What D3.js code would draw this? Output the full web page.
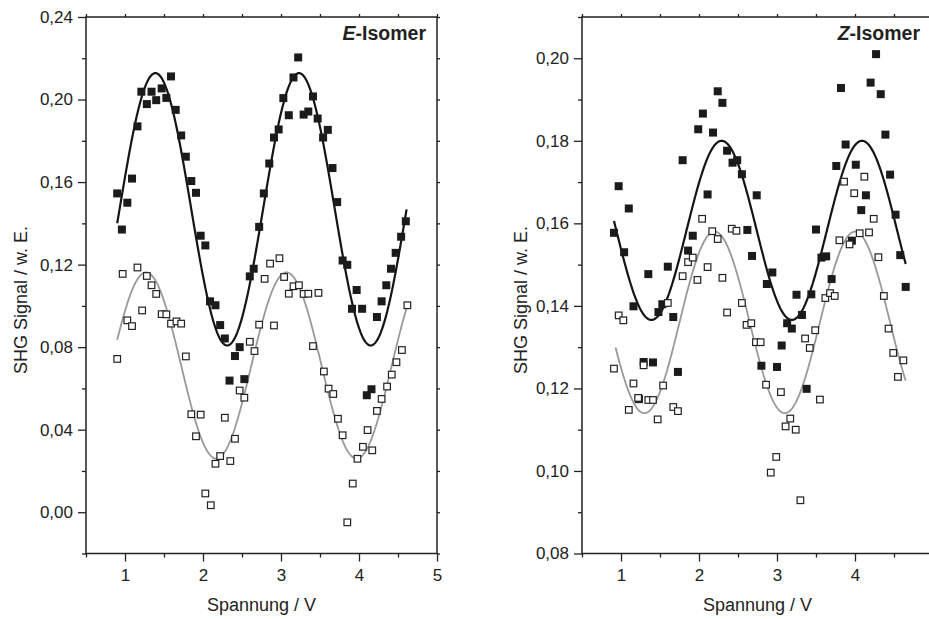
<!DOCTYPE html>
<html>
<head>
<meta charset="utf-8">
<script src="https://cdn.jsdelivr.net/npm/d3@7"></script>
<style>
  body { margin: 0; background: #fff; }
  svg { display: block; font-family: "Liberation Sans", Arial, sans-serif; }
</style>
</head>
<body>
<svg id="chart" width="929" height="619"></svg>
<script>
// ---- data ----
const xMajor = [1, 2, 3, 4, 5];
const xMinor = [0.5, 1.5, 2.5, 3.5, 4.5];

const eMajorY = [0, 0.04, 0.08, 0.12, 0.16, 0.2, 0.24];
const eMinorY = [-0.02, 0.02, 0.06, 0.1, 0.14, 0.18, 0.22];
const zMajorY = [0.08, 0.1, 0.12, 0.14, 0.16, 0.18, 0.2];
const zMinorY = [0.09, 0.11, 0.13, 0.15, 0.17, 0.19, 0.21];

// E-isomer, filled squares
const eFilledX = [0.90,0.96,1.03,1.09,1.16,1.21,1.28,1.34,1.40,1.47,1.53,1.59,1.65,1.72,1.78,1.85,1.91,1.97,2.03,2.09,2.16,2.22,2.28,2.34,2.41,2.47,2.53,2.60,2.65,2.72,2.78,2.85,2.91,2.97,3.03,3.10,3.16,3.22,3.29,3.35,3.41,3.47,3.54,3.60,3.66,3.72,3.79,3.85,3.91,3.97,4.04,4.10,4.16,4.23,4.29,4.35,4.41,4.47,4.54,4.60];
const eFilledY = [0.1545,0.137,0.150,0.1617,0.187,0.2038,0.1978,0.2038,0.1997,0.2054,0.2008,0.2112,0.195,0.1826,0.1723,0.1605,0.1548,0.134,0.1293,0.1022,0.1003,0.0907,0.0842,0.0638,0.0757,0.080,0.0645,0.1143,0.118,0.1383,0.1545,0.169,0.1816,0.1855,0.2007,0.1924,0.2107,0.2204,0.1927,0.1942,0.2015,0.1908,0.1816,0.1853,0.1668,0.1503,0.122,0.1199,0.0986,0.1077,0.0986,0.0567,0.0596,0.0946,0.1022,0.110,0.118,0.1257,0.1335,0.141];
// E-isomer, open squares
const eOpenX = [0.90,0.97,1.03,1.09,1.16,1.22,1.28,1.34,1.40,1.47,1.53,1.59,1.66,1.72,1.78,1.85,1.91,1.97,2.03,2.10,2.16,2.22,2.28,2.35,2.41,2.47,2.53,2.60,2.66,2.72,2.79,2.86,2.91,2.98,3.04,3.10,3.16,3.23,3.29,3.35,3.41,3.48,3.55,3.61,3.67,3.73,3.79,3.85,3.92,3.98,4.05,4.11,4.17,4.23,4.29,4.36,4.42,4.48,4.55,4.62];
const eOpenY = [0.0743,0.1155,0.093,0.0902,0.1186,0.0978,0.1145,0.110,0.1058,0.096,0.0959,0.0914,0.0925,0.0914,0.0755,0.0475,0.0368,0.0473,0.0091,0.0034,0.0235,0.0272,0.0458,0.0248,0.0356,0.0590,0.0555,0.0826,0.0781,0.0909,0.1131,0.1205,0.0905,0.1231,0.114,0.1059,0.1095,0.110,0.1058,0.1059,0.0805,0.1063,0.0682,0.0599,0.0573,0.0453,0.0373,-0.0049,0.0139,0.0259,0.0317,0.0398,0.030,0.0491,0.0549,0.0609,0.0667,0.0727,0.0786,0.1003];

// Z-isomer, filled squares
const zFilledX = [0.91,0.97,1.04,1.10,1.16,1.23,1.29,1.35,1.41,1.48,1.53,1.60,1.67,1.73,1.79,1.86,1.92,1.99,2.05,2.11,2.18,2.24,2.30,2.36,2.43,2.49,2.55,2.62,2.68,2.74,2.80,2.87,2.94,3.00,3.06,3.13,3.19,3.25,3.32,3.38,3.44,3.50,3.57,3.63,3.70,3.76,3.82,3.88,3.96,4.01,4.08,4.14,4.20,4.27,4.33,4.39,4.45,4.52,4.58,4.65];
const zFilledY = [0.1577,0.169,0.153,0.1636,0.1399,0.1174,0.1264,0.1477,0.1263,0.1385,0.1404,0.1495,0.1373,0.124,0.1753,0.1534,0.157,0.1828,0.1866,0.167,0.182,0.192,0.1892,0.1776,0.1747,0.1753,0.1719,0.1584,0.1521,0.1668,0.1255,0.1453,0.1481,0.1252,0.1304,0.1358,0.1345,0.1427,0.1378,0.1199,0.1428,0.1585,0.1517,0.152,0.1465,0.1739,0.1928,0.1791,0.1558,0.1742,0.1632,0.1668,0.1941,0.201,0.1913,0.1815,0.1718,0.1621,0.1523,0.1446];
// Z-isomer, open squares
const zOpenX = [0.91,0.97,1.03,1.10,1.16,1.22,1.29,1.35,1.41,1.47,1.54,1.60,1.67,1.73,1.79,1.86,1.92,1.98,2.04,2.11,2.17,2.24,2.30,2.36,2.42,2.48,2.55,2.61,2.67,2.73,2.79,2.86,2.92,2.99,3.05,3.11,3.17,3.24,3.30,3.36,3.42,3.49,3.55,3.62,3.68,3.74,3.80,3.86,3.93,3.99,4.06,4.12,4.18,4.24,4.30,4.37,4.43,4.49,4.55,4.62];
const zOpenY = [0.1248,0.1377,0.1365,0.1148,0.1212,0.1177,0.1256,0.1172,0.1172,0.1125,0.1207,0.1407,0.1155,0.1145,0.1472,0.1506,0.1517,0.1463,0.1611,0.1494,0.1581,0.1562,0.1468,0.1384,0.1587,0.1582,0.1407,0.1354,0.1358,0.1312,0.1312,0.1209,0.0996,0.1034,0.1191,0.1108,0.1127,0.110,0.0929,0.1321,0.1298,0.1341,0.1173,0.1419,0.1431,0.1424,0.1559,0.1701,0.1549,0.1673,0.1576,0.1713,0.1578,0.1611,0.1518,0.1424,0.1345,0.1286,0.1228,0.1268];

// sine fits: [offset, amplitude, x of maximum, period, x start, x end]
const eFitFilled = [0.1468, 0.066, 1.39, 1.84, 0.90, 4.61];
const eFitOpen   = [0.0711, 0.0451, 1.27, 1.80, 0.90, 4.62];
const zFitFilled = [0.1583, 0.0217, 2.29, 1.80, 0.91, 4.65];
const zFitOpen   = [0.136, 0.022, 2.20, 1.80, 0.93, 4.65];

const svg = d3.select('#chart');
const comma = d => d3.format('.2f')(d).replace('.', ',');

function fitPoints(p) {
    let pts = [];
    for (let x = p[4]; x <= p[5] + 1e-9; x += 0.01) {
        pts.push({x: x, y: p[0] + p[1] * Math.cos(2 * Math.PI * (x - p[2]) / p[3])});
    }
    return pts;
}

function drawPanel(o) {
    const x = d3.scaleLinear().domain([0.5, 5]).range([o.left, o.left + 351]);
    const y = d3.scaleLinear().domain(o.yDomain).range([553.5, 17]);
    const g = svg.append('g');

    // ticks: left & bottom outward, top & right small
    g.append('g').attr('transform', `translate(0,553.5)`)
        .call(d3.axisBottom(x).tickValues(xMajor).tickSize(8).tickPadding(7).tickFormat(d3.format('d')));
    g.append('g').attr('transform', `translate(0,553.5)`)
        .call(d3.axisBottom(x).tickValues(xMinor).tickSize(4).tickFormat(''));
    g.append('g').attr('transform', `translate(${o.left},0)`)
        .call(d3.axisLeft(y).tickValues(o.majorY).tickSize(8).tickPadding(5).tickFormat(comma));
    g.append('g').attr('transform', `translate(${o.left},0)`)
        .call(d3.axisLeft(y).tickValues(o.minorY).tickSize(4).tickFormat(''));
    g.append('g').attr('transform', `translate(0,17)`)
        .call(d3.axisTop(x).tickValues(xMajor.concat(xMinor)).tickSize(3).tickFormat(''));
    g.append('g').attr('transform', `translate(${x(5)},0)`)
        .call(d3.axisRight(y).tickValues(o.majorY.concat(o.minorY)).tickSize(3).tickFormat(''));

    g.selectAll('.domain').remove();
    g.selectAll('.tick line').attr('stroke', '#222').attr('stroke-width', 1.3);
    g.selectAll('.tick text').attr('fill', '#222').style('font-size', '17px');

    g.append('rect')
        .attr('x', x(0.5)).attr('y', 17)
        .attr('width', x(5) - x(0.5)).attr('height', 553.5 - 17)
        .attr('fill', 'none').attr('stroke', '#222').attr('stroke-width', 1.5);

    const line = d3.line().x(d => x(d.x)).y(d => y(d.y));

    g.append('path').attr('d', line(fitPoints(o.fitFilled)))
        .attr('fill', 'none').attr('stroke', '#151515').attr('stroke-width', 2.2);
    g.append('path').attr('d', line(fitPoints(o.fitOpen)))
        .attr('fill', 'none').attr('stroke', '#999').attr('stroke-width', 1.8);

    const s = 8;
    g.selectAll('rect.filled').data(d3.zip(o.filledX, o.filledY)).join('rect')
        .attr('class', 'filled')
        .attr('x', d => x(d[0]) - s / 2).attr('y', d => y(d[1]) - s / 2)
        .attr('width', s).attr('height', s)
        .attr('fill', '#1b1b1b');
    const so = 6.6;
    g.selectAll('rect.open').data(d3.zip(o.openX, o.openY)).join('rect')
        .attr('class', 'open')
        .attr('x', d => x(d[0]) - so / 2).attr('y', d => y(d[1]) - so / 2)
        .attr('width', so).attr('height', so)
        .attr('fill', '#fff').attr('stroke', '#222').attr('stroke-width', 1.2);

    // panel title
    const t = g.append('text')
        .attr('x', o.titleX).attr('y', 40)
        .attr('text-anchor', 'end')
        .style('font-size', '19.5px').style('font-weight', 'bold').attr('fill', '#222');
    t.append('tspan').style('font-style', 'italic').text(o.letter);
    t.append('tspan').text('-Isomer');

    g.append('text')
        .attr('x', (x(0.5) + x(5)) / 2).attr('y', 611)
        .attr('text-anchor', 'middle').style('font-size', '18px').attr('fill', '#222')
        .text('Spannung / V');
    g.append('text')
        .attr('transform', `translate(${o.labelX},300) rotate(-90)`)
        .attr('text-anchor', 'middle').style('font-size', '18px').attr('fill', '#222')
        .text('SHG Signal / w. E.');
}

drawPanel({
    left: 86, yDomain: [-0.02, 0.24], majorY: eMajorY, minorY: eMinorY,
    filledX: eFilledX, filledY: eFilledY, openX: eOpenX, openY: eOpenY,
    fitFilled: eFitFilled, fitOpen: eFitOpen,
    letter: 'E', titleX: 426, labelX: 27
});
drawPanel({
    left: 582, yDomain: [0.08, 0.21], majorY: zMajorY, minorY: zMinorY,
    filledX: zFilledX, filledY: zFilledY, openX: zOpenX, openY: zOpenY,
    fitFilled: zFitFilled, fitOpen: zFitOpen,
    letter: 'Z', titleX: 920, labelX: 527
});
</script>
</body>
</html>
